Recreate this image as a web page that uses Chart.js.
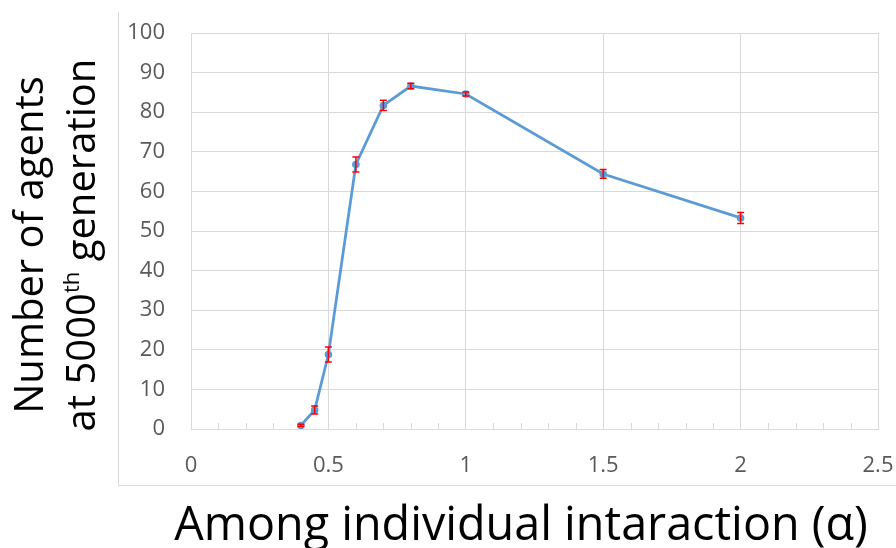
<!DOCTYPE html>
<html lang="en">
<head>
    <meta charset="UTF-8">
    <title>Agents vs alpha</title>
    <script src="https://cdn.jsdelivr.net/npm/chart.js"></script>
    <style>
        body { margin: 0; background: #fff; }
        .wrap { position: relative; width: 896px; height: 548px; overflow: hidden; font-family: "Open Sans", sans-serif; }
        .frame { position: absolute; left: 118px; top: 12px; width: 778px; height: 473px;
                 border-left: 1px solid #d9d9d9; border-bottom: 1px solid #d9d9d9; pointer-events: none; }
        .ytitle { position: absolute; top: 245px; white-space: nowrap; font-size: 40px; line-height: 40px;
                  color: #000; transform: translate(-50%, -50%) rotate(-90deg); }
        .ytitle .sup { font-size: 0.55em; position: relative; top: -0.75em; }
        .xtitle { position: absolute; left: 521px; top: 499px; white-space: nowrap; font-size: 46.7px;
                  line-height: 47px; color: #000; transform: translateX(-50%); }
    </style>
</head>
<body>
    <div class="wrap">
        <canvas id="chart" width="896" height="548"></canvas>
        <div class="frame"></div>
        <div class="ytitle" style="left: 28px;">Number of agents</div>
        <div class="ytitle" style="left: 83px;">at 5000<span class="sup">th</span> generation</div>
        <div class="xtitle">Among individual intaraction (α)</div>
    </div>
    <script>
        // values
        const alphas = [0.4, 0.45, 0.5, 0.6, 0.7, 0.8, 1.0, 1.5, 2.0];
        const agents = [0.9, 4.8, 18.8, 66.8, 81.7, 86.6, 84.6, 64.4, 53.3];
        const errs = [0.3, 1.0, 1.9, 1.9, 1.3, 0.7, 0.5, 1.1, 1.4];
        const xLabels = [0, 0.5, 1, 1.5, 2, 2.5];

        const isMajor = v => xLabels.some(l => Math.abs(l - v) < 1e-6);

        // red error bars with caps
        const errorBars = {
            id: 'errorBars',
            afterDatasetsDraw(chart) {
                const { ctx, scales: { x, y } } = chart;
                ctx.save();
                ctx.strokeStyle = '#ff0000';
                ctx.lineWidth = 1.5;
                alphas.forEach((a, i) => {
                    const px = x.getPixelForValue(a);
                    const top = y.getPixelForValue(agents[i] + errs[i]);
                    const bot = y.getPixelForValue(agents[i] - errs[i]);
                    ctx.beginPath();
                    ctx.moveTo(px, top); ctx.lineTo(px, bot);
                    ctx.moveTo(px - 3.5, top); ctx.lineTo(px + 3.5, top);
                    ctx.moveTo(px - 3.5, bot); ctx.lineTo(px + 3.5, bot);
                    ctx.stroke();
                });
                ctx.restore();
            }
        };

        // small minor tick marks standing on the x axis
        const minorTicks = {
            id: 'minorTicks',
            beforeDatasetsDraw(chart) {
                const { ctx, scales: { x }, chartArea } = chart;
                ctx.save();
                ctx.strokeStyle = '#d9d9d9';
                ctx.lineWidth = 1;
                x.ticks.forEach(t => {
                    if (isMajor(t.value)) return;
                    const px = Math.round(x.getPixelForValue(t.value)) + 0.5;
                    ctx.beginPath();
                    ctx.moveTo(px, chartArea.bottom);
                    ctx.lineTo(px, chartArea.bottom - 6);
                    ctx.stroke();
                });
                ctx.restore();
            }
        };

        new Chart(document.getElementById('chart'), {
            type: 'line',
            data: {
                datasets: [{
                    data: alphas.map((a, i) => ({ x: a, y: agents[i] })),
                    borderColor: '#5b9bd5',
                    backgroundColor: '#5b9bd5',
                    borderWidth: 2.75,
                    pointRadius: 3.8,
                    pointBorderWidth: 0,
                    tension: 0
                }]
            },
            options: {
                responsive: false,
                animation: false,
                devicePixelRatio: 1,
                layout: { padding: { top: 33, right: 18, left: 0, bottom: 0 } },
                plugins: { legend: { display: false }, tooltip: { enabled: false } },
                scales: {
                    x: {
                        type: 'linear',
                        min: 0,
                        max: 2.5,
                        // fixed height, and no extra side padding from the labels
                        afterFit: s => { s.height = 119; s.paddingLeft = 0; s.paddingRight = 0; },
                        border: { color: '#d9d9d9' },
                        grid: {
                            drawTicks: false,
                            color: c => isMajor(c.tick.value) ? '#d9d9d9' : 'rgba(0,0,0,0)'
                        },
                        ticks: {
                            stepSize: 0.1,
                            autoSkip: false,
                            maxRotation: 0,
                            padding: 24,
                            color: '#595959',
                            font: { family: 'Open Sans', size: 22 },
                            callback: v => isMajor(v) ? String(Math.round(v * 2) / 2) : ''
                        }
                    },
                    y: {
                        min: 0,
                        max: 100,
                        afterFit: s => { s.width = 191; s.paddingTop = 0; s.paddingBottom = 0; },
                        border: { display: false },
                        grid: { drawTicks: false, color: '#d9d9d9' },
                        ticks: {
                            stepSize: 10,
                            padding: 26,
                            color: '#595959',
                            font: { family: 'Open Sans', size: 22 }
                        }
                    }
                }
            },
            plugins: [errorBars, minorTicks]
        });
    </script>
</body>
</html>
